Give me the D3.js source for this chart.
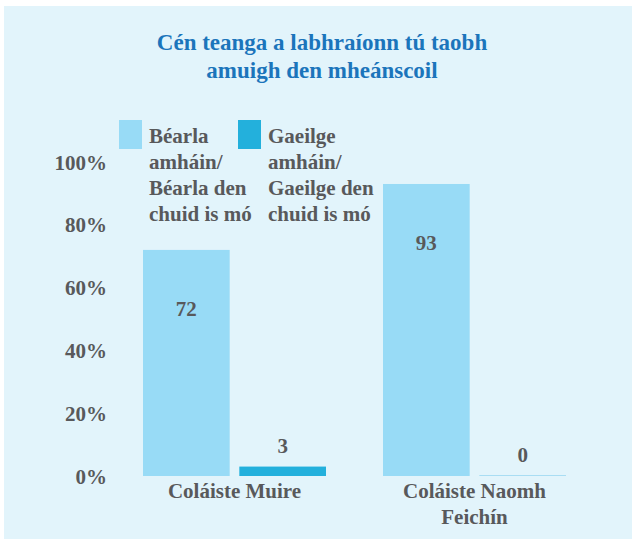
<!DOCTYPE html>
<html lang="ga">

<head>
    <meta charset="utf-8">
    <title>Cén teanga</title>
    <script type="text/javascript" src="https://d3js.org/d3.v7.min.js"></script>
    <style type="text/css">
        body { margin: 0; background: #ffffff; }
        svg text { font-family: "Liberation Serif", serif; font-weight: bold; }
    </style>
</head>

<body>
    <svg width="632" height="539"></svg>
    <script type="text/javascript">
        //Data
        const schools = ['Coláiste Muire', 'Coláiste Naomh Feichín'];
        const seriesNames = ['Béarla amháin/ Béarla den chuid is mó', 'Gaeilge amháin/ Gaeilge den chuid is mó'];
        const bearlaValues = [72, 93];
        const gaeilgeValues = [3, 0];
        const yTicks = [0, 20, 40, 60, 80, 100];

        //Legend lines (wrapped as in the original)
        const legendLines = [
            ['Béarla', 'amháin/', 'Béarla den', 'chuid is mó'],
            ['Gaeilge', 'amháin/', 'Gaeilge den', 'chuid is mó']
        ];
        const schoolLines = [['Coláiste Muire'], ['Coláiste Naomh', 'Feichín']];
        const titleLines = ['Cén teanga a labhraíonn tú taobh', 'amuigh den mheánscoil'];

        const svg = d3.select('svg');
        const w = 632, h = 539;
        const colors = ['#98dbf6', '#23b0dc'];
        const textColor = '#58595b';
        const fs = 21;

        //Panel background
        svg.append('rect')
            .attr('x', 4).attr('y', 6)
            .attr('width', w - 4).attr('height', h - 6)
            .attr('fill', '#e2f4fb');

        //Title
        svg.append('g').selectAll('text')
            .data(titleLines)
            .enter().append('text')
            .attr('x', 322)
            .attr('y', (d, i) => 50 + i * 28)
            .attr('text-anchor', 'middle')
            .attr('font-size', 23)
            .attr('fill', '#1b75bb')
            .text(d => d);

        //Scales
        const xScale = d3.scaleBand()
            .domain(schools)
            .range([115, 595]);

        const xSub = d3.scaleBand()
            .domain([0, 1])
            .range([28, 211])
            .paddingInner(0.1);

        const yScale = d3.scaleLinear()
            .domain([0, 100])
            .range([476, 162]);

        //Y axis labels only
        const leftAxis = d3.axisLeft(yScale)
            .tickValues(yTicks)
            .tickFormat(d => d + '%')
            .tickSize(0)
            .tickPadding(0);

        svg.append('g')
            .attr('transform', 'translate(107,0)')
            .call(leftAxis)
            .call(g => g.select('.domain').remove())
            .call(g => g.selectAll('.tick text')
                .attr('font-family', '"Liberation Serif", serif')
                .attr('font-size', fs)
                .attr('fill', textColor)
                .attr('dy', 7));

        //Bars
        const rows = schools.map((s, i) => ({ school: s, values: [bearlaValues[i], gaeilgeValues[i]] }));

        const groups = svg.append('g').selectAll('g')
            .data(rows)
            .enter().append('g')
            .attr('transform', d => 'translate(' + xScale(d.school) + ',0)');

        groups.selectAll('rect')
            .data(d => d.values.map((v, k) => ({ v: v, k: k })))
            .enter().append('rect')
            .attr('x', d => xSub(d.k))
            .attr('width', xSub.bandwidth())
            .attr('y', d => d.v === 0 ? yScale(0) - 1 : yScale(d.v))
            .attr('height', d => d.v === 0 ? 1 : yScale(0) - yScale(d.v))
            .attr('fill', d => d.v === 0 ? '#a9ddf3' : colors[d.k]);

        //Value labels
        groups.selectAll('text.val')
            .data(d => d.values.map((v, k) => ({ v: v, k: k })))
            .enter().append('text')
            .attr('class', 'val')
            .attr('x', d => xSub(d.k) + xSub.bandwidth() / 2)
            .attr('y', d => d.v > 10 ? yScale(d.v) + 66 : yScale(d.v) - 14)
            .attr('text-anchor', 'middle')
            .attr('font-size', fs)
            .attr('fill', textColor)
            .text(d => d.v);

        //Category labels
        groups.selectAll('text.cat')
            .data((d, i) => schoolLines[i])
            .enter().append('text')
            .attr('class', 'cat')
            .attr('x', xSub(0) + (xSub(1) + xSub.bandwidth() - xSub(0)) / 2)
            .attr('y', (d, i) => 498 + i * 26)
            .attr('text-anchor', 'middle')
            .attr('font-size', fs)
            .attr('fill', textColor)
            .text(d => d);

        //Legend
        const legend = svg.append('g').selectAll('g')
            .data(seriesNames)
            .enter().append('g')
            .attr('transform', (d, i) => 'translate(' + (119 + i * 119) + ',120)');

        legend.append('rect')
            .attr('width', 23).attr('height', 29)
            .attr('fill', (d, i) => colors[i]);

        legend.selectAll('text')
            .data((d, i) => legendLines[i])
            .enter().append('text')
            .attr('x', 30)
            .attr('y', (d, i) => 23 + i * 26)
            .attr('font-size', fs)
            .attr('fill', textColor)
            .text(d => d);
    </script>
</body>

</html>
